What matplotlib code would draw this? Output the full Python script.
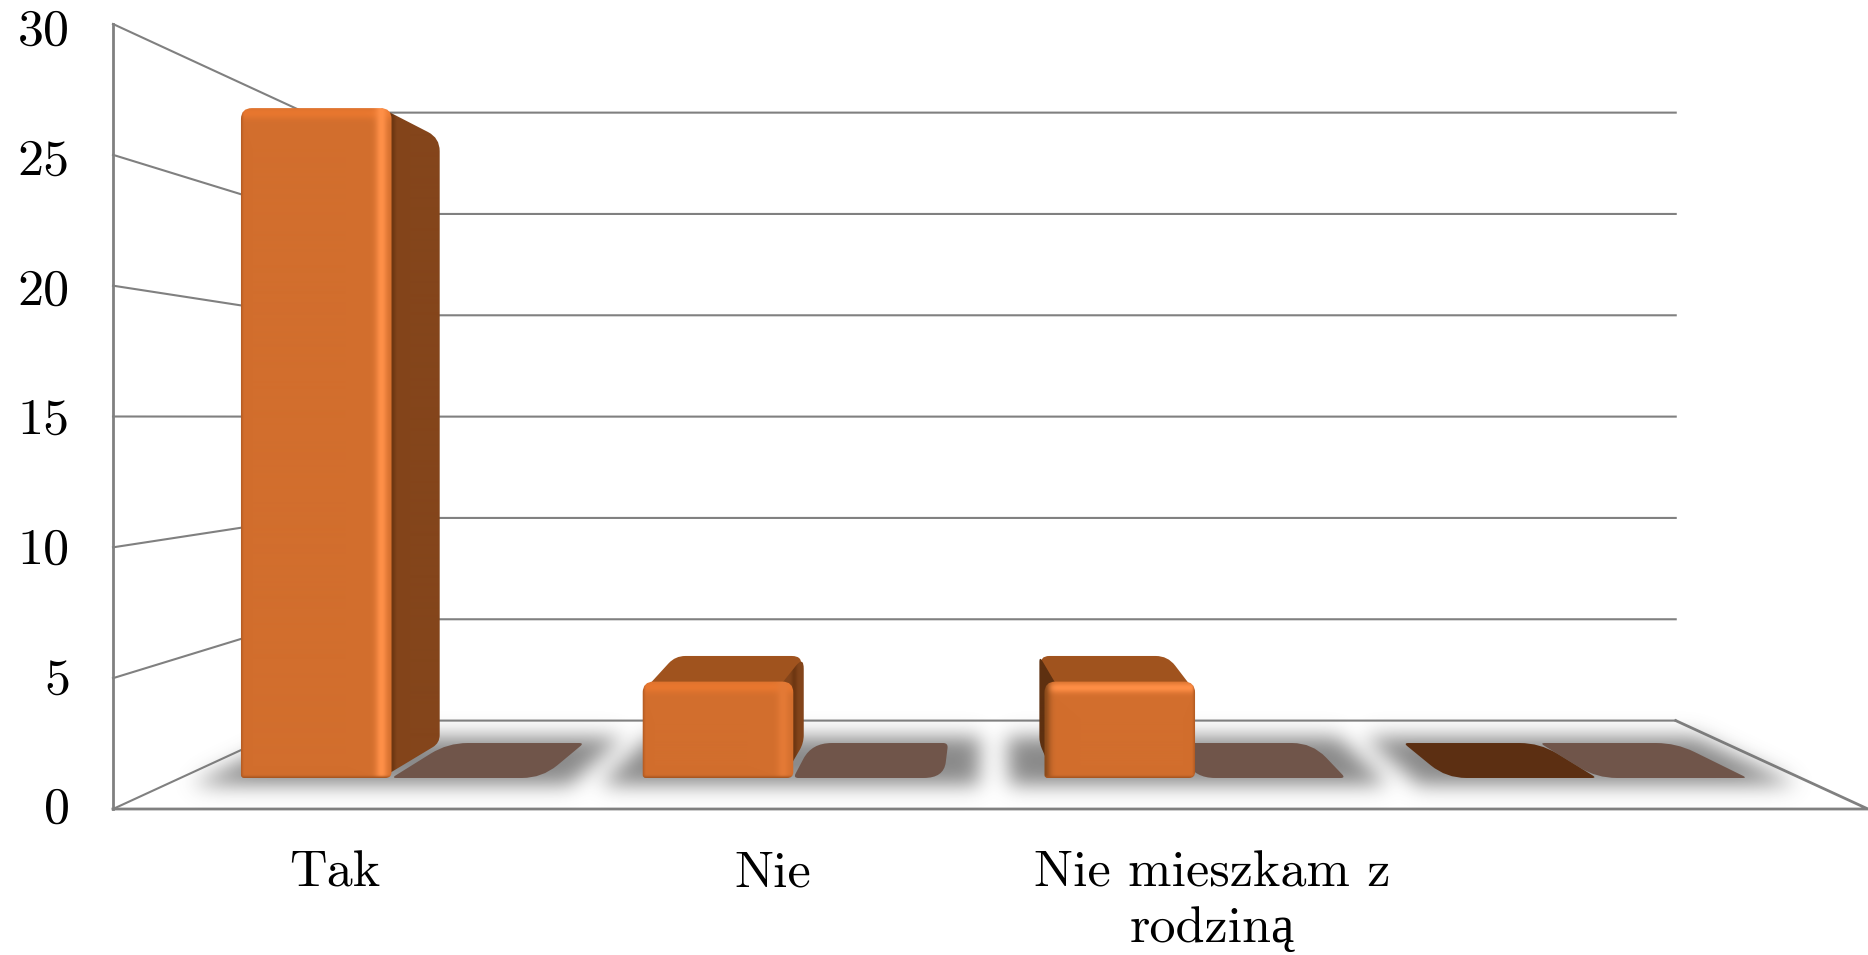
import numpy as np
from matplotlib import pyplot as plt
from matplotlib.colors import to_rgb
from matplotlib.patches import PathPatch
from matplotlib.path import Path

categories = ['Tak', 'Nie', 'Nie mieszkam z\nrodziną', '']
series_a = [27.8, 4, 4, 0]
series_b = [0, 0, 0, 0]
y_ticks = [0, 5, 10, 15, 20, 25, 30]

WIDTH, HEIGHT = 1868, 955
FRONT_LEFT, FRONT_RIGHT = 113, 1868
FRONT_BOTTOM, FRONT_TOP = 809, 24
VP_X, VP_Y = 990, 417
KX, KY = 0.2804, 0.2912
Y_MAX = 30
BAR_X0, BAR_STEP, BAR_W = 179, 435, 163
DEPTH_A, DEPTH_B = 0.295, 0.695
BACK_INSET = 8
GREY = '#808080'


def project(x, value, depth):
    y = FRONT_BOTTOM - value / Y_MAX * (FRONT_BOTTOM - FRONT_TOP)
    return (VP_X + (x - VP_X) / (1 + KX * depth),
            VP_Y + (y - VP_Y) / (1 + KY * depth))


def round_path(pts, radii):
    verts, codes = [], []
    n = len(pts)
    if np.isscalar(radii):
        radii = [radii] * n
    for i in range(n):
        p = np.array(pts[i], float)
        a = np.array(pts[i - 1], float)
        b = np.array(pts[(i + 1) % n], float)
        la, lb = np.linalg.norm(a - p), np.linalg.norm(b - p)
        ra = min(radii[i], la * 0.45)
        rb = min(radii[i], lb * 0.45)
        verts += [p + (a - p) / la * ra, p, p + (b - p) / lb * rb]
        codes += [Path.LINETO, Path.CURVE3, Path.CURVE3]
    codes[0] = Path.MOVETO
    verts.append(verts[0])
    codes.append(Path.CLOSEPOLY)
    return Path(verts, codes)


def flat_face(ax, pts, color, r, z):
    ax.add_patch(PathPatch(round_path(pts, r), fc=color, ec='none', zorder=z))


def shaded_face(ax, pts, base, r, z, top=None, right=None, left=None, bottom=None):
    # top, right, left, bottom = (colour, offset from the edge, width)
    pts = np.array(pts)
    x0, x1 = int(pts[:, 0].min()) - 1, int(pts[:, 0].max()) + 2
    y0, y1 = int(pts[:, 1].min()) - 1, int(pts[:, 1].max()) + 2
    xx, yy = np.meshgrid(np.arange(x0, x1) + 0.5, np.arange(y0, y1) + 0.5)
    rgb = np.ones(xx.shape + (3,)) * np.array(to_rgb(base))
    edges = [(top, yy - pts[:, 1].min()),
             (right, pts[:, 0].max() - xx),
             (left, xx - pts[:, 0].min()),
             (bottom, pts[:, 1].max() - yy)]
    for spec, dist in edges:
        if spec is None:
            continue
        color, off, w = spec
        weight = np.exp(-((dist - off) / w) ** 2)[..., None]
        rgb = rgb * (1 - weight) + np.array(to_rgb(color)) * weight
    patch = PathPatch(round_path(pts, r), fc='none', ec='none', zorder=z)
    ax.add_patch(patch)
    im = ax.imshow(rgb, extent=(x0, x1, y1, y0), aspect='auto', zorder=z,
                   interpolation='bilinear')
    im.set_clip_path(patch)


def footprint(x, w, grow_x, grow_d):
    d0, d1 = DEPTH_A - grow_d, DEPTH_B + grow_d
    return [project(x - grow_x, 0, d0), project(x + w + grow_x, 0, d0),
            project(x + w + grow_x, 0, d1), project(x - grow_x, 0, d1)]


def draw_shadow(ax):
    xx, yy = np.meshgrid(np.arange(WIDTH) + 0.5, np.arange(HEIGHT) + 0.5)
    grid = np.column_stack([xx.ravel(), yy.ravel()])
    mask = np.zeros(grid.shape[0], bool)
    for i in range(len(categories)):
        x = BAR_X0 + i * BAR_STEP
        poly = Path(footprint(x, 2 * BAR_W, 38, 0.075) + [(0, 0)], closed=True)
        mask |= poly.contains_points(grid)
    mask = mask.reshape(xx.shape).astype(float)
    fy = np.fft.fftfreq(HEIGHT)[:, None]
    fx = np.fft.rfftfreq(WIDTH)[None, :]
    sigma = 10
    kernel = np.exp(-2 * (np.pi * sigma) ** 2 * (fx ** 2 + fy ** 2))
    blur = np.fft.irfft2(np.fft.rfft2(mask) * kernel, s=mask.shape)
    rgba = np.zeros(xx.shape + (4,))
    rgba[..., :3] = 0.42
    rgba[..., 3] = np.clip(blur, 0, 1) * 0.8
    ax.imshow(rgba, extent=(0, WIDTH, HEIGHT, 0), aspect='auto', zorder=2,
              interpolation='nearest')


def draw_bar(ax, x, w, value, z, top_color, zero_color=None):
    if value == 0:
        pts = [project(x, 0, DEPTH_A), project(x + w, 0, DEPTH_A),
               project(x + w, 0, DEPTH_B), project(x, 0, DEPTH_B)]
        # obtuse corners of the tile look rounder than the sharp ones
        leans_right = pts[3][0] > pts[0][0]
        radii = [5, 20, 5, 20] if leans_right else [20, 5, 20, 5]
        flat_face(ax, pts, zero_color, radii, z)
        return
    flt = project(x, value, DEPTH_A)
    frt = project(x + w, value, DEPTH_A)
    frb = project(x + w, 0, DEPTH_A)
    flb = project(x, 0, DEPTH_A)
    blt = project(x, value, DEPTH_B)
    brt = project(x + w, value, DEPTH_B)
    brb = project(x + w, 0, DEPTH_B)
    blb = project(x, 0, DEPTH_B)
    brt = (brt[0] - BACK_INSET, brt[1])
    brb = (brb[0] - BACK_INSET, brb[1])
    # faces run a little under the front one so its round corners stay filled
    under = 10
    if brt[1] < frt[1]:
        flat_face(ax, [(flt[0], flt[1] + under), (frt[0], frt[1] + under), brt, blt],
                  top_color, [0, 0, 12, 10], z)
    if brt[0] > frt[0]:
        shaded_face(ax, [(frt[0] - under, frt[1]), brt, brb, (frb[0] - under, frb[1])],
                    '#84451B', [0, 13, 8, 0], z + 0.1,
                    left=('#6E3712', under + 1, 3))
    if blt[0] < flt[0]:
        shaded_face(ax, [(flt[0] + under, flt[1]), blt, blb, (flb[0] + under, flb[1])],
                    '#5E3010', [0, 6, 6, 0], z + 0.1)
    if x < VP_X:
        top = ('#E8772F', 6, 6)
        right = ('#FF9048' if value > 10 else '#E47A36', 10, 6)
        left = ('#B55C23', 0, 2)
    else:
        top = ('#FF8E46', 7, 5)
        right = ('#B55C23', 0, 2)
        left = ('#8A4A1A', 0, 6)
    shaded_face(ax, [flt, frt, frb, flb], '#D26E2D', [11, 11, 6, 3], z + 0.2,
                top=top, right=right, left=left, bottom=('#A85620', 0, 2))


fig = plt.figure(figsize=(WIDTH / 100, HEIGHT / 100), dpi=100)
ax = fig.add_axes([0, 0, 1, 1])
ax.set_xlim(0, WIDTH)
ax.set_ylim(HEIGHT, 0)
ax.autoscale(False)
ax.axis('off')

font = {'family': ['cmr10', 'Liberation Serif'], 'size': 37.5, 'color': 'black'}

for v in y_ticks:
    # left wall then back wall
    a = project(FRONT_LEFT, v, 0)
    b = project(FRONT_LEFT, v, 1)
    c = project(FRONT_RIGHT, v, 1)
    ax.plot([a[0], b[0], c[0]], [a[1], b[1], c[1]], color=GREY, lw=1.5, zorder=1,
            solid_joinstyle='miter')
    label_y = FRONT_BOTTOM + 1 - v / Y_MAX * (FRONT_BOTTOM - FRONT_TOP - 7)
    ax.text(70, label_y, str(v), ha='right', va='center', **font)

# floor edges and the axis
corners = [project(FRONT_RIGHT, 0, 1), project(FRONT_RIGHT, 0, 0), project(FRONT_LEFT, 0, 0)]
ax.plot([p[0] for p in corners], [p[1] for p in corners], color=GREY, lw=2, zorder=1)
ax.plot([FRONT_LEFT, FRONT_LEFT], [FRONT_TOP, FRONT_BOTTOM], color=GREY, lw=2, zorder=1)

draw_shadow(ax)

band = (FRONT_RIGHT - FRONT_LEFT) / len(categories)
for i in range(len(categories)):
    x = BAR_X0 + i * BAR_STEP
    draw_bar(ax, x + BAR_W, BAR_W, series_b[i], 3 + i, '#70554A', '#70554A')
    draw_bar(ax, x, BAR_W, series_a[i], 3.5 + i, '#A0531E', '#5C2F12')
    if categories[i]:
        ax.text(FRONT_LEFT + band * (i + 0.5) + 2, 851, categories[i], ha='center', va='top',
                linespacing=1.27, zorder=10, **font)

fig.savefig('out.png', dpi=100)
